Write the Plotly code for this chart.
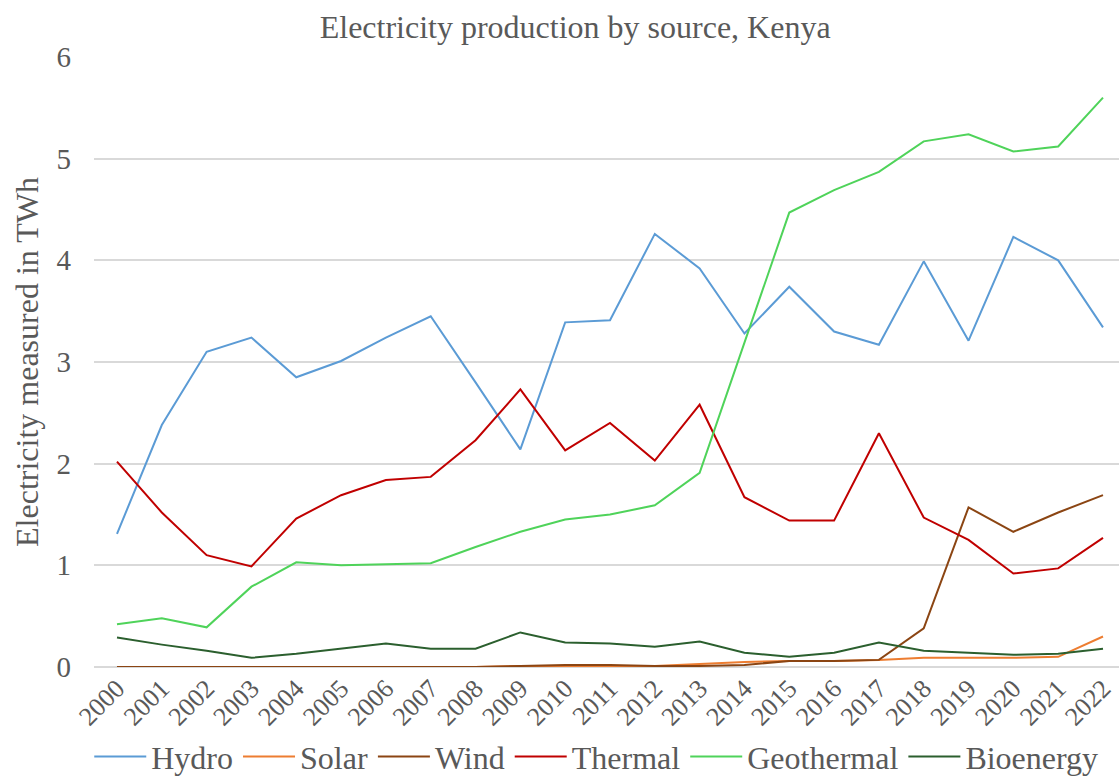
import plotly.graph_objects as go

years = list(range(2000, 2023))

hydro = [1.31, 2.38, 3.10, 3.24, 2.85, 3.01, 3.24, 3.45, 2.80, 2.14, 3.39, 3.41, 4.26,
         3.92, 3.28, 3.74, 3.30, 3.17, 3.99, 3.21, 4.23, 4.00, 3.34]
solar = [0.0, 0.0, 0.0, 0.0, 0.0, 0.0, 0.0, 0.0, 0.0, 0.01, 0.01, 0.01, 0.01,
         0.03, 0.05, 0.06, 0.06, 0.07, 0.09, 0.09, 0.09, 0.10, 0.30]
wind = [0.0, 0.0, 0.0, 0.0, 0.0, 0.0, 0.0, 0.0, 0.0, 0.01, 0.02, 0.02, 0.01,
        0.01, 0.02, 0.06, 0.06, 0.07, 0.38, 1.57, 1.33, 1.52, 1.69]
thermal = [2.02, 1.52, 1.10, 0.99, 1.46, 1.69, 1.84, 1.87, 2.23, 2.73, 2.13, 2.40, 2.03,
           2.58, 1.67, 1.44, 1.44, 2.30, 1.47, 1.25, 0.92, 0.97, 1.27]
geothermal = [0.42, 0.48, 0.39, 0.79, 1.03, 1.00, 1.01, 1.02, 1.18, 1.33, 1.45, 1.50, 1.59,
              1.91, 3.19, 4.47, 4.69, 4.87, 5.17, 5.24, 5.07, 5.12, 5.60]
bioenergy = [0.29, 0.22, 0.16, 0.09, 0.13, 0.18, 0.23, 0.18, 0.18, 0.34, 0.24, 0.23, 0.20,
             0.25, 0.14, 0.10, 0.14, 0.24, 0.16, 0.14, 0.12, 0.13, 0.18]

series = [
    ("Hydro", hydro, "#5b9bd5"),
    ("Solar", solar, "#ed7d31"),
    ("Wind", wind, "#8b4513"),
    ("Thermal", thermal, "#c00000"),
    ("Geothermal", geothermal, "#4fd35a"),
    ("Bioenergy", bioenergy, "#2b5f2e"),
]

font_family = "Liberation Serif, Times New Roman, serif"
text_gray = "#595959"

fig = go.Figure()
for name, values, color in series:
    fig.add_trace(go.Scatter(
        x=years, y=values, name=name, mode="lines",
        line=dict(color=color, width=2),
    ))

fig.update_layout(
    width=1119, height=776,
    paper_bgcolor="white", plot_bgcolor="white",
    margin=dict(l=94, r=0, t=57, b=109, autoexpand=False),
    font=dict(family=font_family, color=text_gray),
    title=dict(
        text="Electricity production by source, Kenya",
        font=dict(size=32, color=text_gray, family=font_family),
        x=0.514, xanchor="center", y=0.965, yanchor="middle",
    ),
    xaxis=dict(
        range=[1999.487, 2022.357],
        tickmode="array", tickvals=years, ticktext=[str(y) for y in years],
        tickangle=-45, tickfont=dict(size=26, color=text_gray),
        showgrid=False, zeroline=False, showline=False,
        ticks="", ticklen=0, automargin=False,
    ),
    yaxis=dict(
        range=[0, 6], dtick=1,
        tickfont=dict(size=29, color=text_gray),
        ticklabelstandoff=22,
        gridcolor="#d9d9d9", gridwidth=1.5,
        zeroline=True, zerolinecolor="#d9d9d9", zerolinewidth=1.5,
        showline=False, ticks="", ticklen=0, automargin=False,
        title=dict(text="Electricity measured in TWh",
                   font=dict(size=32, color=text_gray), standoff=8),
    ),
    legend=dict(
        orientation="h", x=0.49, xanchor="center", y=-0.147, yanchor="middle",
        font=dict(size=32, color=text_gray),
        itemwidth=52, tracegroupgap=0,
    ),
    showlegend=True,
)

fig.write_html("out.html")
